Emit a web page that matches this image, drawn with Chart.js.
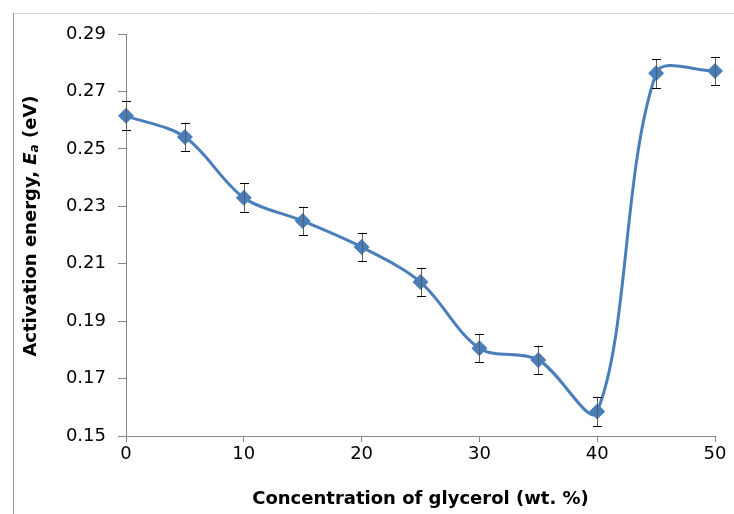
<!DOCTYPE html>
<html>
<head>
<meta charset="utf-8">
<script src="https://cdn.jsdelivr.net/npm/chart.js@4/dist/chart.umd.min.js"></script>
<style>
  html, body { margin: 0; padding: 0; background: #fff; }
  #wrap { width: 734px; height: 514px; position: relative; }
</style>
</head>
<body>
<div id="wrap"><canvas id="myChart"></canvas></div>
<script>
// glycerol content (wt. %) and activation energy (eV)
var glycerol = [0, 5, 10, 15, 20, 25, 30, 35, 40, 45, 50];
var energy = [0.2615, 0.2541, 0.2330, 0.2249, 0.2158, 0.2036, 0.1806, 0.1765, 0.1585, 0.2763, 0.2771];
var errors = [0.005, 0.005, 0.005, 0.005, 0.005, 0.005, 0.005, 0.005, 0.005, 0.005, 0.005];

var blue = '#4A7EBB';
var axisGray = '#868686';
var fontFam = '"DejaVu Sans", Verdana, sans-serif';

// outer frame lines (left and top)
var framePlugin = {
    id: 'frame',
    beforeDraw: function (chart) {
        var c = chart.ctx;
        c.save();
        c.lineWidth = 1;
        c.strokeStyle = '#d0d0d0';
        c.beginPath();
        c.moveTo(13, 13.5);
        c.lineTo(chart.width, 13.5);
        c.stroke();
        c.strokeStyle = '#9a9a9a';
        c.beginPath();
        c.moveTo(13.5, 13);
        c.lineTo(13.5, chart.height);
        c.stroke();
        c.restore();
    }
};

// error bars, drawn through the scales
var errorBarPlugin = {
    id: 'errorBars',
    afterDatasetsDraw: function (chart) {
        var c = chart.ctx;
        var xs = chart.scales.x, ys = chart.scales.y;
        c.save();
        c.lineWidth = 1;
        for (var i = 0; i < glycerol.length; i++) {
            var x = Math.round(xs.getPixelForValue(glycerol[i])) + 0.5;
            var yTop = ys.getPixelForValue(energy[i] + errors[i]);
            var yBot = ys.getPixelForValue(energy[i] - errors[i]);
            c.strokeStyle = '#5a5a5a';
            c.beginPath();
            c.moveTo(x, yTop);
            c.lineTo(x, yBot);
            c.stroke();
            c.strokeStyle = '#000';
            c.beginPath();
            c.moveTo(x - 4.5, Math.round(yTop) + 0.5);
            c.lineTo(x + 4.5, Math.round(yTop) + 0.5);
            c.moveTo(x - 4.5, Math.round(yBot) + 0.5);
            c.lineTo(x + 4.5, Math.round(yBot) + 0.5);
            c.stroke();
        }
        c.restore();
    }
};

// y axis title with italic E and subscript a
var yTitlePlugin = {
    id: 'yTitle',
    afterDraw: function (chart) {
        var c = chart.ctx;
        var parts = [
            { t: 'Activation energy, ', f: 'bold 18px ' + fontFam, dy: 0 },
            { t: 'E', f: 'italic bold 18px ' + fontFam, dy: 0 },
            { t: 'a', f: 'italic bold 12px ' + fontFam, dy: 4 },
            { t: ' (eV)', f: 'bold 18px ' + fontFam, dy: 0 }
        ];
        c.save();
        var total = 0;
        parts.forEach(function (p) { c.font = p.f; p.w = c.measureText(p.t).width; total += p.w; });
        c.translate(30, 226);
        c.rotate(-Math.PI / 2);
        c.fillStyle = '#000';
        c.textBaseline = 'middle';
        var px = -total / 2;
        parts.forEach(function (p) {
            c.font = p.f;
            c.fillText(p.t, px, p.dy + 1);
            px += p.w;
        });
        c.restore();
    }
};

var ctx = document.getElementById('myChart').getContext('2d');

var myChart = new Chart(ctx, {
    type: 'line',
    data: {
        datasets: [{
            data: glycerol.map(function (g, i) { return { x: g, y: energy[i] }; }),
            borderColor: blue,
            backgroundColor: blue,
            borderWidth: 3,
            tension: 0.33,
            fill: false,
            pointStyle: 'rectRot',
            pointRadius: 8,
            pointBorderWidth: 0,
            pointHoverRadius: 8,
            clip: false
        }]
    },
    options: {
        responsive: true,
        maintainAspectRatio: false,
        animation: false,
        layout: { padding: { top: 34, right: 19, left: 0, bottom: 0 } },
        plugins: {
            legend: { display: false },
            tooltip: { enabled: false }
        },
        scales: {
            x: {
                type: 'linear',
                min: 0,
                max: 50,
                afterFit: function (s) { s.height = 78; },
                ticks: {
                    stepSize: 10,
                    padding: 2,
                    color: '#000',
                    font: { family: fontFam, size: 18 }
                },
                grid: { drawOnChartArea: false, tickLength: 6, color: axisGray },
                border: { color: axisGray },
                title: {
                    display: true,
                    text: 'Concentration of glycerol (wt. %)',
                    color: '#000',
                    padding: { top: 14 },
                    font: { family: fontFam, size: 18, weight: 'bold' }
                }
            },
            y: {
                min: 0.15,
                max: 0.29,
                afterFit: function (s) { s.width = 126; },
                ticks: {
                    stepSize: 0.02,
                    padding: 12,
                    color: '#000',
                    font: { family: fontFam, size: 18 },
                    callback: function (v) { return v.toFixed(2); }
                },
                grid: { drawOnChartArea: false, tickLength: 8, color: axisGray },
                border: { color: axisGray }
            }
        }
    },
    plugins: [framePlugin, errorBarPlugin, yTitlePlugin]
});
</script>
</body>
</html>
